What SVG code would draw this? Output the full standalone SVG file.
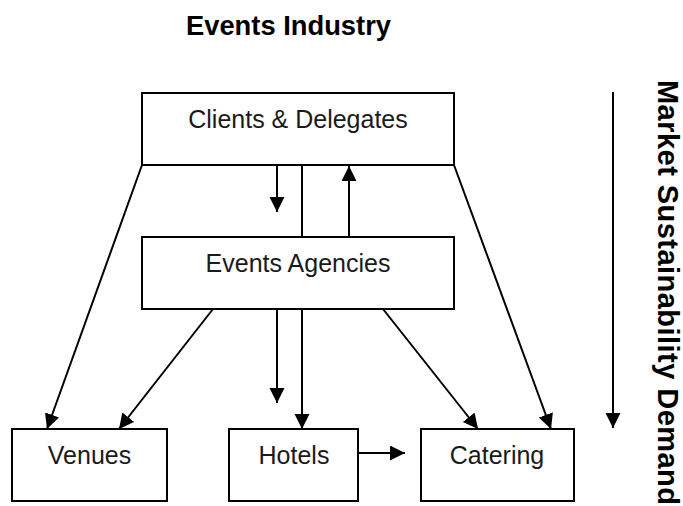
<svg xmlns="http://www.w3.org/2000/svg" width="683" height="506" viewBox="0 0 683 506">
<style>
.box{fill:#fff;stroke:#000;stroke-width:2}
.lbl{font-family:"Liberation Sans",Arial,sans-serif;font-size:25px;fill:#1a1a1a;text-anchor:middle}
.ttl{font-family:"Liberation Sans",Arial,sans-serif;font-weight:bold;font-size:27px;fill:#000}
.side{font-family:"Liberation Sans",Arial,sans-serif;font-weight:bold;font-size:29px;fill:#000}
.ln{stroke:#000;stroke-width:2;fill:none}
.arr{marker-end:url(#ah)}
</style>
<defs>
<marker id="ah" markerUnits="userSpaceOnUse" markerWidth="16" markerHeight="16" refX="15" refY="7.5" orient="auto">
<path d="M0,0 L15,7.5 L0,15 Z" fill="#000"/>
</marker>
</defs>
<g id="title">
<text class="ttl" x="186" y="35" textLength="205" lengthAdjust="spacingAndGlyphs">Events Industry</text>
</g>
<g id="connectors">
<line class="ln arr" x1="142" y1="165" x2="47" y2="429"/>
<line class="ln arr" x1="213" y1="309" x2="119" y2="429"/>
<line class="ln arr" x1="277" y1="165" x2="277" y2="212"/>
<line class="ln arr" x1="302" y1="165" x2="302" y2="429"/>
<line class="ln arr" x1="349" y1="237" x2="349" y2="166"/>
<line class="ln arr" x1="277" y1="309" x2="277" y2="403"/>
<line class="ln arr" x1="383" y1="309" x2="478" y2="429"/>
<line class="ln arr" x1="454" y1="165" x2="551" y2="429"/>
<line class="ln arr" x1="358" y1="453" x2="405" y2="453"/>
<line class="ln arr" x1="613" y1="92" x2="613" y2="428"/>
</g>
<g id="clients">
<rect class="box" x="142" y="93" width="312" height="72"/>
<text class="lbl" x="298" y="128">Clients &amp; Delegates</text>
</g>
<g id="agencies">
<rect class="box" x="142" y="237" width="312" height="72"/>
<text class="lbl" x="298" y="272">Events Agencies</text>
</g>
<g id="venues">
<rect class="box" x="12" y="429" width="155" height="72"/>
<text class="lbl" x="89.5" y="464">Venues</text>
</g>
<g id="hotels">
<rect class="box" x="229" y="429" width="129" height="72"/>
<text class="lbl" x="294" y="464">Hotels</text>
</g>
<g id="catering">
<rect class="box" x="421" y="429" width="153" height="72"/>
<text class="lbl" x="497" y="464">Catering</text>
</g>
<g id="side-label">
<text class="side" transform="translate(658,80) rotate(90)" x="0" y="0" textLength="425" lengthAdjust="spacing">Market Sustainability Demand</text>
</g>
</svg>
